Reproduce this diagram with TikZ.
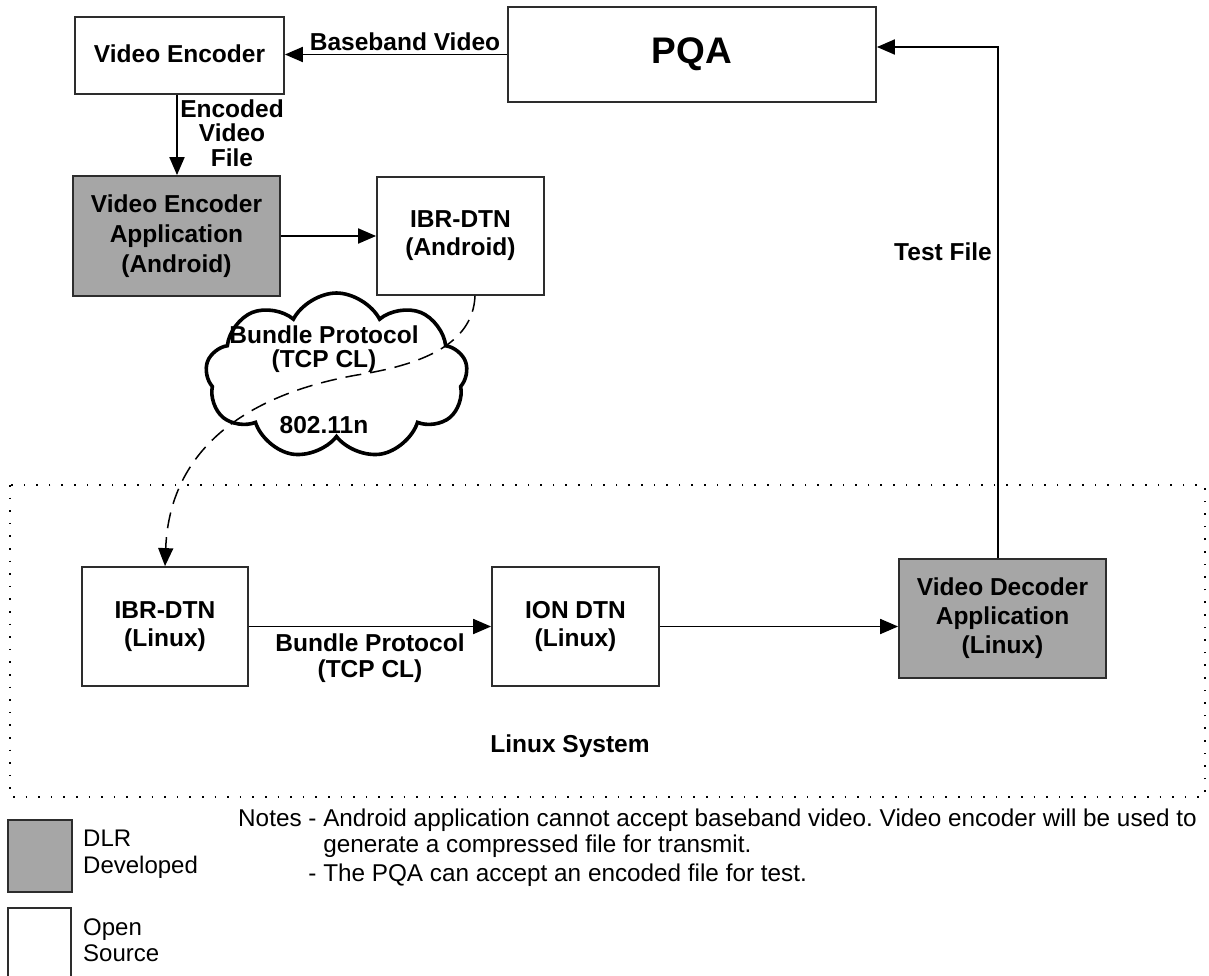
\documentclass[tikz,border=0pt]{standalone}
\usepackage{fontspec}
\setmainfont{Liberation Sans}
\usetikzlibrary{arrows.meta,shapes.symbols,calc}
\definecolor{dlrgray}{RGB}{166,166,166}
\definecolor{boxline}{RGB}{45,45,45}
\frenchspacing
\tikzset{
  box/.style={draw=boxline, line width=1.8pt, fill=white, align=center, inner sep=0pt,
    font=\bfseries\fontsize{24.5}{30}\selectfont},
  dlrbox/.style={box, fill=dlrgray},
  arr/.style={line width=1.9pt, -{Triangle[length=18pt,width=15pt]}},
  dasharr/.style={line width=1.5pt, dash pattern=on 16pt off 9pt, -{Triangle[length=18pt,width=15pt]}},
  lbl/.style={font=\bfseries\fontsize{24.5}{24.5}\selectfont, align=center, inner sep=0pt},
  plain/.style={font=\fontsize{24.3}{26}\selectfont, inner sep=0pt},
}
\begin{document}
\begin{tikzpicture}[x=1pt,y=-1pt]
\useasboundingbox (0,0) rectangle (1209,975);
\fill[white] (0,0) rectangle (1209,975);

% Linux system frame
\draw[line width=1.5pt, dash pattern=on 1.6pt off 11pt] (10,485) rectangle (1205,797);
\node[lbl] (linuxsys) at (570,746) {Linux System};

% Boxes
\node[box, minimum width=209pt, minimum height=77pt] (venc) at (179.5,55.5) {\raisebox{4pt}{Video Encoder}};
\node[box, minimum width=368pt, minimum height=95pt, font=\bfseries\fontsize{37}{40}\selectfont] (pqa) at (692,54.5) {PQA};
\node[dlrbox, minimum width=207pt, minimum height=120pt] (vea) at (176.5,236) {Video Encoder\\Application\\(Android)};
\node[box, minimum width=167pt, minimum height=118pt, font=\bfseries\fontsize{24.5}{28}\selectfont] (ibra) at (460.5,236) {IBR-DTN\\(Android)};
\node[box, minimum width=166pt, minimum height=119pt, font=\bfseries\fontsize{24.5}{28}\selectfont] (ibrl) at (165,626.5) {IBR-DTN\\(Linux)};
\node[box, minimum width=167pt, minimum height=119pt, font=\bfseries\fontsize{24.5}{28}\selectfont] (ion) at (575.5,626.5) {ION DTN\\(Linux)};
\node[dlrbox, minimum width=207pt, minimum height=119pt, font=\bfseries\fontsize{24.5}{29}\selectfont] (vda) at (1002.5,618.5) {Video Decoder\\Application\\(Linux)};

% Cloud
\node[cloud, cloud puffs=9, cloud puff arc=125, aspect=1.55, draw=black, line width=3.6pt, fill=white,
  minimum width=262pt, minimum height=166pt, inner sep=0pt] (cloud) at (336.5,376) {};
\node[lbl, font=\bfseries\fontsize{24.5}{23.5}\selectfont] (cloudtxt) at (324,349) {Bundle Protocol\\(TCP CL)};
\node[lbl] (wifi) at (324,425) {802.11n};

% Connectors
\draw[arr] (pqa.west) -- (pqa.west -| venc.east);
\node[lbl, anchor=base] (bbv) at (405,50) {Baseband Video};
\draw[arr] ($(venc.south)+(-2.5,0)$) -- ($(venc.south |- vea.north)+(-2.5,0)$);
\node[lbl] (evf) at (232,133) {Encoded\\Video\\File};
\draw[arr] (vea.east) -- (ibra.west);
\draw[dasharr] ($(ibra.south)+(14.5,0)$) .. controls (473,345) and (420,365) .. (357,375)
   .. controls (260,392) and (170,440) .. (ibrl.north);
\draw[arr] (ibrl.east) -- (ion.west);
\node[lbl, font=\bfseries\fontsize{24.5}{26}\selectfont] (bp) at (370,658) {Bundle Protocol\\(TCP CL)};
\draw[arr] (ion.east) -- (ion.east -| vda.west);
\coordinate (pqain) at ($(pqa.east)+(0,-7.5)$);
\draw[arr] ($(vda.north)+(-4.5,0)$) |- (pqain);
\node[lbl, anchor=east] (tf) at (992,252) {Test File};

% Legend
\node[draw=boxline, line width=1.8pt, fill=dlrgray, minimum width=64pt, minimum height=72pt, inner sep=0pt] (legdlr) at (40,856) {};
\node[plain, anchor=west, align=left, font=\fontsize{24}{27}\selectfont] (legdlrt) at (83,854) {DLR\\Developed};
\node[draw=boxline, line width=1.8pt, fill=white, minimum width=63pt, minimum height=75pt, inner sep=0pt] (legos) at (39.5,945.5) {};
\node[plain, anchor=west, align=left, font=\fontsize{24}{26}\selectfont] (legost) at (83,940) {Open\\Source};

% Notes
\node[plain, anchor=north west] (notes) at (238,808) {%
  \begin{tabular}{@{}l@{}l@{}l@{}}
  \mbox{Notes\ } & \mbox{-\ } & Android application cannot accept baseband video. Video encoder will be used to\\
   & & generate a compressed file for transmit.\\[3pt]
   & \mbox{-\ } & The PQA can accept an encoded file for test.
  \end{tabular}};
\end{tikzpicture}
\end{document}
